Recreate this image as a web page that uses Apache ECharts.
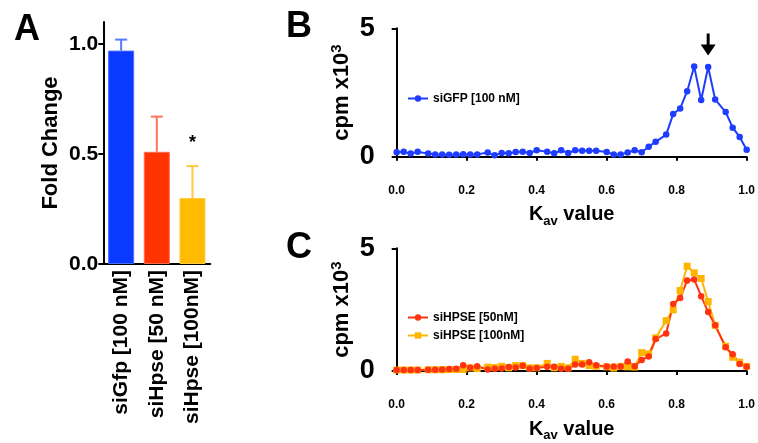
<!DOCTYPE html>
<html>
<head>
<meta charset="utf-8">
<script src="https://cdn.jsdelivr.net/npm/echarts@6/dist/echarts.min.js"></script>
<style>
  html, body { margin: 0; padding: 0; background: #fff; }
  #chart { width: 758px; height: 443px; }
</style>
</head>
<body>
<div id="chart"></div>
<script>
// panel A: fold change bars
var barCats = ['siGfp [100 nM]', 'siHpse [50 nM]', 'siHpse [100nM]'];
var barVals = [0.97, 0.51, 0.30];
var barErr = [0.05, 0.16, 0.145];
var sigMarks = ['', '', '*'];
var barColors = ['#0a3aff', '#ff3300', '#ffbb00'];
var barEdge = ['#4a6cff', '#ff6a4a', '#ffcc44'];
var errColors = ['#5a78ff', '#ff7358', '#ffc940'];

// panels B and C: Kav fractions
var kav = [0, 0.02, 0.04, 0.06, 0.09, 0.11, 0.13, 0.15, 0.17, 0.19, 0.21, 0.23, 0.26, 0.28, 0.30, 0.32,
  0.34, 0.36, 0.38, 0.40, 0.43, 0.45, 0.47, 0.49, 0.51, 0.53, 0.55, 0.57, 0.60, 0.62, 0.64, 0.66,
  0.68, 0.70, 0.72, 0.74, 0.77, 0.79, 0.81, 0.83, 0.85, 0.87, 0.89, 0.91, 0.94, 0.96, 0.98, 1.00];
var gfp100 = [0.17, 0.19, 0.12, 0.19, 0.12, 0.09, 0.09, 0.08, 0.09, 0.10, 0.09, 0.09, 0.16, 0.06, 0.14, 0.13,
  0.18, 0.19, 0.14, 0.25, 0.19, 0.13, 0.25, 0.14, 0.25, 0.23, 0.23, 0.23, 0.18, 0.09, 0.09, 0.16,
  0.25, 0.17, 0.39, 0.58, 0.86, 1.66, 1.88, 2.55, 3.51, 2.21, 3.49, 2.23, 1.74, 1.13, 0.77, 0.27];
var hpse50 = [0.04, 0.04, 0.04, 0.04, 0.05, 0.05, 0.06, 0.08, 0.09, 0.23, 0.13, 0.19, 0.06, 0.09, 0.10, 0.16,
  0.14, 0.21, 0.09, 0.12, 0.17, 0.17, 0.09, 0.09, 0.26, 0.26, 0.36, 0.23, 0.18, 0.18, 0.18, 0.39,
  0.19, 0.45, 0.59, 1.30, 1.53, 2.73, 2.97, 3.69, 3.73, 3.05, 2.40, 1.86, 0.97, 0.68, 0.29, 0.17];
var hpse100 = [0.04, 0.04, 0.04, 0.04, 0.05, 0.05, 0.05, 0.06, 0.06, 0.06, 0.13, 0.10, 0.16, 0.14, 0.19, 0.13,
  0.22, 0.22, 0.13, 0.13, 0.31, 0.13, 0.19, 0.13, 0.48, 0.31, 0.22, 0.19, 0.17, 0.12, 0.19, 0.17,
  0.16, 0.75, 0.70, 1.35, 2.05, 2.49, 3.28, 4.27, 4.00, 3.77, 2.83, 1.86, 1.01, 0.56, 0.36, 0.19];

var FONT = 'Liberation Sans, Arial, sans-serif';

function pairs(ys) {
  return kav.map(function (x, i) { return [x, ys[i]]; });
}

function kavAxis(idx) {
  return {
    gridIndex: idx, type: 'value', min: 0, max: 1, interval: 0.2, offset: 22,
    axisLine: { lineStyle: { color: '#000', width: 2 } },
    axisTick: { length: 4, lineStyle: { color: '#000', width: 2 } },
    splitLine: { show: false },
    axisLabel: {
      margin: 6, color: '#000', fontFamily: FONT, fontWeight: 'bold', fontSize: 12,
      formatter: function (v) { return v.toFixed(1); }
    },
    name: '{k|K}{s|av}{k| value}', nameLocation: 'middle', nameGap: 26,
    nameTextStyle: {
      rich: {
        k: { fontFamily: FONT, fontWeight: 'bold', fontSize: 20, color: '#000', verticalAlign: 'bottom' },
        s: { fontFamily: FONT, fontWeight: 'bold', fontSize: 13, color: '#000', verticalAlign: 'bottom', padding: [0, 0, -3, 0] }
      }
    }
  };
}

function cpmAxis(idx) {
  return {
    gridIndex: idx, type: 'value', min: 0, max: 5, interval: 5, offset: 20,
    axisLine: { show: true, lineStyle: { color: '#000', width: 2 } },
    axisTick: { show: true, length: 5, lineStyle: { color: '#000', width: 2 } },
    splitLine: { show: false },
    axisLabel: { margin: 2, color: '#000', fontFamily: FONT, fontWeight: 'bold', fontSize: 27 },
    name: '{m|cpm x10}{u|3}', nameLocation: 'middle', nameRotate: 90, nameGap: 24,
    nameTextStyle: {
      rich: {
        m: { fontFamily: FONT, fontWeight: 'bold', fontSize: 22, color: '#000', verticalAlign: 'bottom' },
        u: { fontFamily: FONT, fontWeight: 'bold', fontSize: 15, color: '#000', verticalAlign: 'top', padding: [0, 0, 8, 0] }
      }
    }
  };
}

function legendBox(names, top) {
  return {
    data: names, left: 407, top: top, orient: 'vertical', padding: 0,
    itemWidth: 20, itemHeight: 8, itemGap: 6,
    textStyle: { fontFamily: FONT, fontWeight: 'bold', fontSize: 12, color: '#000' }
  };
}

var chart = echarts.init(document.getElementById('chart'));

var option = {
  animation: false,
  backgroundColor: '#fff',
  grid: [
    { left: 103.3, top: 22, width: 107, height: 242 },
    { left: 396.7, top: 28.3, width: 354.3, height: 128.4 },
    { left: 396.7, top: 248.3, width: 354.3, height: 128.4 }
  ],
  legend: [
    legendBox(['siGFP [100 nM]'], 92.5),
    legendBox(['siHPSE [50nM]', 'siHPSE [100nM]'], 311.5)
  ],
  xAxis: [
    {
      gridIndex: 0, type: 'category', data: barCats,
      axisLine: { lineStyle: { color: '#000', width: 2 } },
      axisTick: { alignWithLabel: true, length: 5, lineStyle: { color: '#000', width: 2 } },
      axisLabel: { rotate: 90, margin: 6, color: '#000', fontFamily: FONT, fontWeight: 'bold', fontSize: 21 }
    },
    kavAxis(1),
    kavAxis(2)
  ],
  yAxis: [
    {
      gridIndex: 0, type: 'value', min: 0, max: 1.1, interval: 0.5,
      axisLine: { show: true, lineStyle: { color: '#000', width: 2 } },
      axisTick: { show: true, length: 5, customValues: [0, 0.5, 1], lineStyle: { color: '#000', width: 2 } },
      splitLine: { show: false },
      axisLabel: {
        margin: 5, color: '#000', fontFamily: FONT, fontWeight: 'bold', fontSize: 21,
        customValues: [0, 0.5, 1],
        formatter: function (v) { return v.toFixed(1); }
      },
      name: 'Fold Change', nameLocation: 'middle', nameRotate: 90, nameGap: 41,
      nameTextStyle: { fontFamily: FONT, fontWeight: 'bold', fontSize: 22, color: '#000' }
    },
    cpmAxis(1),
    cpmAxis(2)
  ],
  graphic: [
    { type: 'text', left: 14, top: 12, style: { text: 'A', font: 'bold 36px ' + FONT, fill: '#000' } },
    { type: 'text', left: 286, top: 9, style: { text: 'B', font: 'bold 36px ' + FONT, fill: '#000' } },
    { type: 'text', left: 286, top: 230, style: { text: 'C', font: 'bold 36px ' + FONT, fill: '#000' } }
  ],
  series: [
    {
      type: 'bar', xAxisIndex: 0, yAxisIndex: 0, barWidth: 26,
      data: barVals.map(function (v, i) {
        return { value: v, itemStyle: { color: barColors[i], borderColor: barEdge[i], borderWidth: 1 } };
      })
    },
    {
      type: 'custom', xAxisIndex: 0, yAxisIndex: 0,
      data: barVals.map(function (v, i) { return [i, v, barErr[i]]; }),
      renderItem: function (params, api) {
        var i = api.value(0);
        var base = api.coord([i, api.value(1)]);
        var top = api.coord([i, api.value(1) + api.value(2)]);
        var col = errColors[i];
        var kids = [
          { type: 'line', shape: { x1: base[0], y1: base[1], x2: top[0], y2: top[1] }, style: { stroke: col, lineWidth: 2 } },
          { type: 'line', shape: { x1: top[0] - 6, y1: top[1], x2: top[0] + 6, y2: top[1] }, style: { stroke: col, lineWidth: 2 } }
        ];
        if (sigMarks[i]) {
          kids.push({
            type: 'text', x: top[0], y: top[1] - 23,
            style: { text: sigMarks[i], font: 'bold 18px ' + FONT, fill: '#000', align: 'center', verticalAlign: 'middle' }
          });
        }
        return { type: 'group', children: kids };
      },
      z: 3
    },
    {
      name: 'siGFP [100 nM]', type: 'line', xAxisIndex: 1, yAxisIndex: 1,
      data: pairs(gfp100), symbol: 'circle', symbolSize: 6.5,
      lineStyle: { width: 2, color: '#1f3dff' }, itemStyle: { color: '#1f3dff' },
      markPoint: {
        symbol: 'path://M6,0 L9,0 L9,11 L15,11 L7.5,22 L0,11 L6,11 Z',
        symbolSize: [15, 22], symbolKeepAspect: false,
        itemStyle: { color: '#000' }, label: { show: false },
        data: [{ coord: [0.89, 4.37] }]
      }
    },
    {
      name: 'siHPSE [100nM]', type: 'line', xAxisIndex: 2, yAxisIndex: 2,
      data: pairs(hpse100), symbol: 'rect', symbolSize: 7,
      lineStyle: { width: 2, color: '#ffb400' }, itemStyle: { color: '#ffb400' }
    },
    {
      name: 'siHPSE [50nM]', type: 'line', xAxisIndex: 2, yAxisIndex: 2,
      data: pairs(hpse50), symbol: 'circle', symbolSize: 6.5,
      lineStyle: { width: 2, color: '#ff3311' }, itemStyle: { color: '#ff3311' }
    }
  ]
};

chart.setOption(option);
</script>
</body>
</html>
